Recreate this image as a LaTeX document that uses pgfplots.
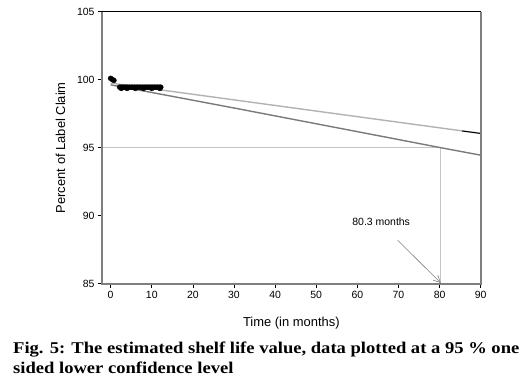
\documentclass[border=0pt]{standalone}
\usepackage{fontspec}
\setmainfont{Liberation Sans}
\newfontfamily\capfont[FakeStretch=1.13]{Liberation Serif}
\usepackage{pgfplots}
\pgfplotsset{compat=1.18}
\usetikzlibrary{arrows.meta}
\definecolor{frame}{HTML}{7F7F7F}
\definecolor{fitc}{HTML}{B2B2B2}
\definecolor{lowc}{HTML}{7A7A7A}
\definecolor{refc}{HTML}{C4C4C4}
\begin{document}
\begin{tikzpicture}[x=1bp,y=1bp]
\useasboundingbox (-102,-102.3) rectangle (425,283.7);
\begin{axis}[
  at={(0,0)}, anchor=south west,
  scale only axis, width=378.7bp, height=272bp,
  xmin=-2.1, xmax=90, ymin=85, ymax=105,
  xtick={0,10,...,90}, ytick={85,90,...,105},
  xtick pos=bottom, ytick pos=left,
  tick align=outside, major tick length=4bp,
  tick style={black, line width=0.6bp},
  axis line style={draw=none},
  /pgf/number format/assume math mode=true,
  ticklabel style={font=\fontsize{10.5}{12}\selectfont},
  xlabel={Time (in months)}, ylabel={Percent of Label Claim},
  label style={font=\fontsize{13}{15}\selectfont},
  xlabel style={yshift=-12bp},
  ylabel style={yshift=5bp},
  clip=false,
]
% reference lines at 95 % and 80.3 months
\addplot[refc, line width=1bp] coordinates {(-2.1,95) (80.3,95) (80.3,85)};
% lower confidence bound
\addplot[lowc, line width=1.4bp] coordinates {(0,99.62) (10,99.06) (20,98.49) (30,97.92) (40,97.34) (50,96.76) (60,96.18) (70,95.6) (80.3,95.0) (90,94.45)};
% regression line
\addplot[fitc, line width=1.4bp] coordinates {(0,99.75) (90,96.05)};
\addplot[black, line width=1bp] coordinates {(85.5,96.23) (90,96.05)};
% data
\addplot[only marks, mark=*, mark size=2.5bp, black] coordinates {
(0,100.1) (0.4,100.02) (0.8,99.95)
(2.2,99.45) (2.6,99.45) (3,99.45) (3.4,99.45) (3.8,99.45) (4.2,99.45) (4.6,99.45) (5,99.45)
(5.4,99.45) (5.8,99.45) (6.2,99.45) (6.6,99.45) (7,99.45) (7.4,99.45) (7.8,99.45) (8.2,99.45)
(8.6,99.45) (9,99.45) (9.4,99.45) (9.8,99.45) (10.2,99.45) (10.6,99.45) (11,99.45) (11.4,99.45) (11.8,99.45) (12.2,99.45)
(2.6,99.36) (4,99.36) (6,99.36) (8,99.36) (10,99.36) (12,99.36)};
% annotation
\node[font=\fontsize{10.5}{12}\selectfont] at (axis cs:65.8,89.55) {80.3 months};
\draw[gray, line width=0.6bp, -{Straight Barb[length=7bp,width=7bp]}] (axis cs:69.8,88.2) -- (axis cs:80.3,85.05);
% frame
\draw[frame, line width=1.8bp] (rel axis cs:0,1) -- (rel axis cs:0,0) -- (rel axis cs:1,0) -- (rel axis cs:1,1);
\draw[black, line width=0.8bp] (rel axis cs:0,1) -- (rel axis cs:1,1);
\end{axis}
\node[anchor=base west, font=\capfont\bfseries\fontsize{16.5}{19}\selectfont, inner sep=0] at (-89,-69.3) {Fig. 5: The estimated shelf life value, data plotted at a 95 \% one};
\node[anchor=base west, font=\capfont\bfseries\fontsize{16.5}{19}\selectfont, inner sep=0] at (-89,-89.3) {sided lower confidence level};
\end{tikzpicture}
\end{document}
